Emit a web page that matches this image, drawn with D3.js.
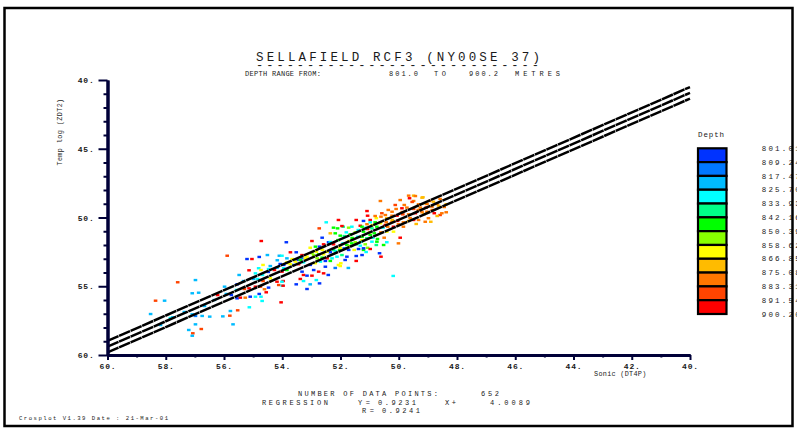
<!DOCTYPE html>
<html><head><meta charset="utf-8">
<script src="https://cdn.jsdelivr.net/npm/d3@7"></script>
<style>
body{margin:0;background:#fff}
svg text{font-family:"Liberation Mono","DejaVu Sans Mono",monospace;fill:#1a1a1a}
</style>
</head><body>
<svg id="c" width="797" height="430"></svg>
<script>
// ---------------- data ----------------
const xTicks = [60,58,56,54,52,50,48,46,44,42,40];
const xMinorTicks = [59,57,55,53,51,49,47,45,43,41];
const yTicks = [40,45,50,55,60];
const yMinorTicks = [41,42,43,44,46,47,48,49,51,52,53,54,56,57,58,59];
const depthLabels = ["801.01","809.24","817.47","825.70","833.93","842.16","850.39","858.62","866.85","875.08","883.31","891.54","900.20"];
const depthColors = ["#0033ff","#0077ff","#00bbff","#00ffff","#00ff88","#00ff00","#88ff00","#ffff00","#ffbb00","#ff7700","#ff4400","#ff0000"];
const regSlope = 0.9231, regIntercept = 4.0089, regR = 0.9241, nPoints = 652;
const bandOffsets = [-0.42, 0, 0.42];
// [sonic DT4P, temp ZDT2, depth class index]
const points = [
[55.89,52.78,10],[55.21,53.02,0],[55.04,53.02,11],[54.79,52.87,0],[54.51,52.73,2],[54.17,53.11,2],[54.10,52.78,2],[54.66,53.45,7],[53.84,53.26,7],[55.14,53.84,11],[54.81,53.69,3],[54.73,53.82,7],[54.47,53.75,3],[54.18,53.65,2],[55.48,54.18,2],[56.98,54.55,2],[57.59,54.71,10],[54.92,54.06,3],[54.98,54.47,2],[54.84,54.47,3],[54.66,54.62,10],[54.41,54.42,7],[54.18,54.67,11],[53.97,54.62,11],[54.12,54.91,10],[54.00,54.96,3],[55.98,55.03,2],[55.55,54.86,0],[55.30,55.20,10],[55.14,55.15,11],[54.92,55.03,11],[54.75,55.03,10],[54.61,55.22,9],[54.47,55.10,0],[54.55,55.44,11],[57.09,55.51,2],[56.87,55.47,2],[56.22,55.64,11],[55.75,55.64,0],[55.55,55.88,0],[55.44,55.83,11],[55.27,55.83,9],[55.10,55.76,0],[54.92,55.76,3],[54.79,55.56,0],[54.73,55.76,3],[58.35,56.05,10],[58.04,56.05,2],[54.69,56.07,3],[54.04,56.17,11],[55.13,56.53,3],[58.52,57.02,2],[57.76,57.26,2],[57.09,57.04,2],[56.98,57.16,1],[56.75,57.16,2],[56.49,57.21,2],[56.04,57.19,2],[55.78,56.80,2],[55.53,56.75,10],[55.80,57.14,10],[56.98,57.77,2],[55.69,57.77,2],[57.21,58.18,2],[56.78,58.11,10],[57.07,58.42,10],[57.09,58.60,2],[54.72,51.71,11],
[51.09,49.53,11],[51.07,49.87,11],[51.46,50.18,11],[52.07,50.18,11],[52.49,50.35,3],[52.73,50.79,10],[52.24,50.74,5],[52.10,50.79,5],[51.91,50.67,4],[51.72,50.74,6],[51.61,50.67,3],[51.32,50.60,11],[51.09,50.49,9],[50.98,50.18,11],[52.98,51.71,11],[52.63,51.47,0],[52.35,51.15,8],[52.18,51.15,5],[52.01,51.32,5],[51.80,51.08,3],[51.66,51.22,5],[51.49,51.08,6],[51.41,51.40,3],[51.21,51.03,5],[51.07,50.84,11],[53.86,51.80,0],[53.72,52.53,11],[53.52,52.53,0],[53.32,52.73,11],[53.04,52.20,7],[52.86,52.12,5],[52.72,52.12,0],[52.58,51.95,11],[52.41,51.80,0],[52.24,51.95,11],[51.91,51.88,3],[51.72,51.71,7],[51.61,51.88,5],[51.46,51.95,4],[51.32,52.05,3],[51.15,51.95,6],[52.98,52.60,6],[52.83,52.49,7],[52.58,52.68,7],[52.35,52.53,0],[52.18,52.44,3],[52.03,52.36,5],[51.87,52.24,1],[51.72,52.36,0],[51.53,52.36,7],[51.38,52.29,0],[51.21,52.36,5],[51.07,52.20,6],[54.01,52.78,3],[53.84,52.97,2],[53.66,53.02,7],[53.49,53.09,0],[53.32,52.97,1],[53.15,52.85,7],[52.80,52.97,6],[52.63,52.92,5],[52.46,52.97,11],[52.29,52.97,3],[52.12,52.85,3],[51.95,52.73,4],[51.78,52.85,0],[51.26,52.73,0],[53.95,53.45,0],[53.78,53.33,7],[53.61,53.45,1],[53.44,53.40,11],[53.27,53.26,3],[53.04,53.45,0],[52.87,53.33,7],[52.69,53.21,3],[52.52,53.16,0],[52.35,53.16,5],[52.07,53.45,7],[51.99,53.33,7],[51.46,53.16,11],[53.95,53.69,3],[54.01,53.94,11],[53.84,53.82,5],[53.32,53.94,0],[53.27,54.18,11],[53.15,54.23,0],[52.98,54.23,11],[52.75,53.94,11],[52.58,54.06,11],[52.52,53.58,0],[53.38,54.47,11],[53.27,54.62,3],[53.52,54.86,0],[53.04,54.86,2],[52.72,54.79,0],[54.01,54.67,3],[53.15,55.20,0],[53.97,54.96,11],
[49.66,48.41,9],[49.49,48.41,8],[49.95,48.73,9],[49.63,48.60,11],[49.49,48.80,9],[49.20,48.56,8],[50.63,48.80,9],[49.32,49.04,9],[49.09,48.97,8],[48.94,48.80,9],[48.81,48.85,8],[48.58,48.65,9],[50.58,49.69,10],[50.46,49.82,9],[50.23,49.58,9],[50.09,49.38,9],[49.89,49.33,11],[49.72,49.28,9],[49.49,49.38,10],[49.26,49.28,9],[49.06,49.28,11],[48.86,49.21,9],[48.63,49.14,8],[48.37,49.04,8],[50.77,50.05,7],[50.61,49.94,9],[50.41,50.05,8],[50.23,49.87,9],[50.06,49.87,11],[49.86,49.77,10],[49.66,49.77,9],[49.43,49.69,11],[49.20,49.62,9],[49.03,49.58,9],[48.78,49.69,11],[48.58,49.82,10],[48.37,49.62,9],[48.98,50.05,9],[48.90,50.31,8],[49.09,50.31,9],[51.21,50.25,0],[50.98,50.35,3],[50.81,50.35,5],[50.63,50.42,7],[50.43,50.35,9],[50.23,50.31,9],[50.04,50.25,11],[49.84,50.35,9],[49.66,50.25,8],[49.49,50.18,11],[49.32,50.18,9],[51.26,50.67,5],[51.12,50.74,3],[50.92,50.79,4],[50.75,50.67,5],[50.54,50.74,3],[50.38,50.67,9],[50.18,50.67,11],[50.01,50.49,9],[49.84,50.67,9],[51.00,51.08,7],[50.84,51.15,5],[50.61,51.08,9],[50.41,51.03,7],[50.18,51.03,7],[51.26,51.40,5],[51.09,51.51,6],[50.89,51.47,3],[50.73,51.56,5],[50.50,51.47,9],[49.95,51.47,11],[50.01,51.88,9],[51.30,51.76,3],[50.92,51.76,3],[50.75,51.76,5],[50.52,52.00,5],[50.41,51.80,3],[51.21,52.24,0],[50.98,52.29,11],[50.66,52.60,0],[50.61,52.85,11],[50.19,54.25,3],
[51.95,50.62,11],[52.92,53.82,0],[52.01,53.53,7],[49.03,49.02,9],[49.43,48.44,9],[49.17,48.53,8],[48.52,49.69,9],[48.69,49.02,9],
[53.72,53.40,7],[53.55,53.21,7],[53.38,53.09,5],[53.21,52.97,7],[52.92,52.73,6],[52.75,52.68,5],[52.46,52.49,7],[52.24,52.36,4],[52.01,52.20,7],[51.78,52.00,5],[51.49,51.80,6],[51.26,51.64,7],[51.09,51.51,4],
[54.68,54.18,3],[54.48,53.96,0],[54.27,53.82,11],[54.41,53.53,2],[54.07,53.38,0],[55.33,54.62,2],[55.57,55.27,3],[55.92,55.56,2],[56.33,56.00,2],[56.67,56.44,2],[57.36,56.87,2],[57.84,57.31,3],[58.18,57.82,2],
[49.81,49.09,9],[49.54,48.87,10],[49.33,49.45,9],[49.13,49.75,8],[48.85,49.45,9],[48.68,49.89,8],[49.61,50.04,9],[49.88,49.60,9],[50.12,49.09,10],[50.36,49.45,9],[50.22,50.18,8],[50.46,50.55,11],[50.81,49.89,9],[50.91,50.55,7],[48.44,49.24,9],[49.40,50.47,8],
[51.87,51.35,4],[51.60,51.49,5],[51.39,50.91,3],[50.98,51.27,5],[50.77,52.00,4],[51.12,52.51,3],[51.46,52.80,0],[51.70,52.07,6],[52.08,51.64,5],[52.35,51.78,3],[52.62,52.36,7],
[51.84,53.09,0],[52.18,53.67,1],[52.42,54.18,0],[51.73,53.67,2],[52.83,54.55,3]
];

// ---------------- drawing ----------------
const svg = d3.select("#c");
svg.append("rect").attr("width",797).attr("height",430).attr("fill","#fff");

const x = d3.scaleLinear().domain([60,40]).range([107.5,690]);
const y = d3.scaleLinear().domain([40,60]).range([80,355]);
const axisColor = "#000038";

// points
svg.append("g").selectAll("rect").data(points).join("rect")
  .attr("x", d => x(d[0]) - 1.8).attr("y", d => y(d[1]) - 1.2)
  .attr("width", 3.6).attr("height", 2.4)
  .attr("fill", d => depthColors[d[2]]);

// regression band lines
const line = d3.line().x(d => x(d[0])).y(d => y(d[1]));
svg.append("g").selectAll("path").data(bandOffsets).join("path")
  .attr("d", o => line(x.domain().map(X => [X, regSlope * X + regIntercept + o])))
  .attr("fill","none").attr("stroke","#000").attr("stroke-width",2.5)
  .attr("stroke-dasharray","12,0.6");

// axes
function styleAxis(g){
  g.select(".domain").attr("stroke",axisColor).attr("stroke-width",3);
  g.selectAll(".tick line").attr("stroke",axisColor).attr("stroke-width",2);
  g.selectAll(".tick text").attr("font-family",'"Liberation Mono",monospace')
   .attr("font-size",8).attr("font-weight","bold").attr("fill","#222").attr("letter-spacing",0.8);
}
const gy = svg.append("g").attr("transform","translate(107.5,0)");
gy.append("g").call(d3.axisLeft(y).tickValues(yMinorTicks).tickSize(4).tickSizeOuter(0).tickFormat("")).call(styleAxis);
gy.append("g").call(d3.axisLeft(y).tickValues(yTicks).tickSize(9).tickSizeOuter(0).tickPadding(4).tickFormat(d => d + ".")).call(styleAxis);

const gx = svg.append("g").attr("transform","translate(0,355)");
gx.append("g").call(d3.axisBottom(x).tickValues(xMinorTicks).tickSize(2.5).tickSizeOuter(0).tickFormat("")).call(styleAxis);
gx.append("g").call(d3.axisBottom(x).tickValues(xTicks).tickSize(5).tickSizeOuter(0).tickPadding(3).tickFormat(d => d + ".")).call(styleAxis);

// axis titles
svg.append("text").attr("transform","translate(62,132) rotate(-90)").attr("text-anchor","middle")
  .attr("font-size",6.8).attr("letter-spacing",0.4).text("Temp log (ZDT2)");
svg.append("text").attr("x",594).attr("y",376).attr("font-size",6.8).attr("letter-spacing",0.3).text("Sonic (DT4P)");

// title block
svg.append("text").attr("x",256).attr("y",61).attr("font-size",12.5)
  .attr("textLength",284).attr("lengthAdjust","spacing").text("SELLAFIELD RCF3 (NY00SE  37)");
svg.append("text").attr("x",256).attr("y",69).attr("font-size",12)
  .attr("textLength",283).attr("lengthAdjust","spacing").text("----------------------------");
const depthLine = [["DEPTH RANGE FROM:",245,76],["801.0",389,29],["TO",434,12],["900.2",469,29],["METRES",515,45]];
svg.append("g").selectAll("text").data(depthLine).join("text")
  .attr("x", d => d[1]).attr("y",76).attr("font-size",7)
  .attr("textLength", d => d[2]).attr("lengthAdjust","spacing").text(d => d[0]);

// bottom statistics
const stats = [
  ["NUMBER OF DATA POINTS:",298,395.5,140],[String(nPoints),481,395.5,18],
  ["REGRESSION",262,404.5,66],["Y=",358,404.5,12],[regSlope.toFixed(4),378,404.5,38],
  ["X+",445,404.5,11],[regIntercept.toFixed(4),490,404.5,40],
  ["R=",362,413,12],[regR.toFixed(4),382,413,38]
];
svg.append("g").selectAll("text").data(stats).join("text")
  .attr("x", d => d[1]).attr("y", d => d[2]).attr("font-size",7)
  .attr("textLength", d => d[3]).attr("lengthAdjust","spacing").text(d => d[0]);
svg.append("text").attr("x",19).attr("y",420).attr("font-size",5.6)
  .attr("textLength",149).attr("lengthAdjust","spacing").text("Crosplot V1.39 Date : 21-Mar-01");

// legend
const ly = d3.scaleLinear().domain([0, depthColors.length]).range([148.3, 314]);
svg.append("text").attr("x",698).attr("y",137).attr("font-size",7.5).attr("letter-spacing",0.9).text("Depth");
svg.append("g").selectAll("rect").data(depthColors).join("rect")
  .attr("x",698).attr("y",(d,i) => ly(i)).attr("width",28.5).attr("height",(d,i) => ly(i+1)-ly(i))
  .attr("fill", d => d).attr("stroke","#000").attr("stroke-width",2.2);
svg.append("g").selectAll("text").data(depthLabels).join("text")
  .attr("x",761.7).attr("y",(d,i) => ly(i) + 2.6).attr("font-size",7.5).attr("letter-spacing",2.2)
  .text(d => d);

// frame
svg.append("rect").attr("x",4.5).attr("y",8).attr("width",788).attr("height",418)
  .attr("fill","none").attr("stroke","#000").attr("stroke-width",2.5);
</script>
</body></html>
